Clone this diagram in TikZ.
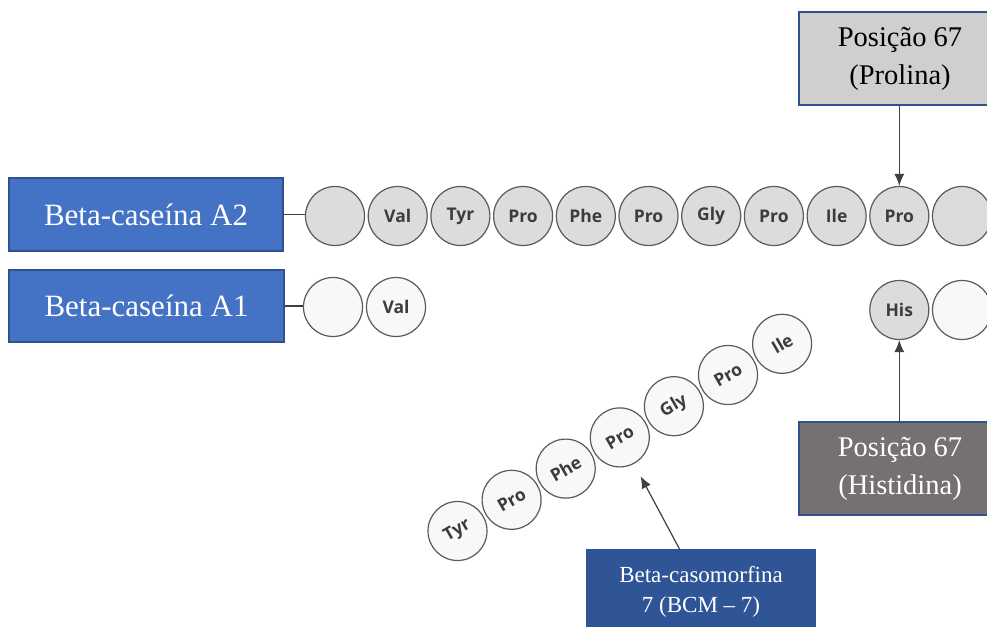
\documentclass[tikz,border=0pt]{standalone}
\usepackage{fontspec}
\setmainfont{Liberation Serif}
\newfontfamily\aafont{Open Sans}
\usetikzlibrary{arrows.meta}
\definecolor{boxblue}{HTML}{4472C4}
\definecolor{boxedge}{HTML}{2F528F}
\definecolor{bcmblue}{HTML}{2F5597}
\definecolor{lightbox}{HTML}{D0CECE}
\definecolor{darkbox}{HTML}{767171}
\definecolor{aagray}{HTML}{DCDCDC}
\definecolor{aawhite}{HTML}{F8F8F8}
\definecolor{aatext}{HTML}{3C3C3C}
\definecolor{aaedge}{HTML}{5A5A5A}
\begin{document}
\begin{tikzpicture}[x=1pt,y=-1pt,
  labelbox/.style={draw=boxedge,line width=1.5pt,inner sep=0pt,align=center,
    font=\fontsize{31}{38}\selectfont},
  aa/.style={circle,draw=aaedge,line width=1.2pt,minimum size=59pt,inner sep=0pt,
    font=\aafont\bfseries\fontsize{17.5}{17.5}\selectfont,text=aatext},
  aagrey/.style={aa,fill=aagray},
  aawhite/.style={aa,fill=aawhite},
  link/.style={draw=black!75,line width=1.2pt},
  arr/.style={link,-{Latex[length=12pt,width=10pt]}}
]
\useasboundingbox (0,0) rectangle (987,626);
\fill[white] (0,0) rectangle (987,626);

% label boxes
\node[labelbox,fill=boxblue,text=white,minimum width=274pt,minimum height=73pt] (bA2) at (146,214.5) {Beta-caseína A2};
\node[labelbox,fill=boxblue,text=white,minimum width=275pt,minimum height=72pt] (bA1) at (146.5,306) {Beta-caseína A1};
\node[labelbox,fill=lightbox,text=black,minimum width=202pt,minimum height=93pt,
  font=\fontsize{28.5}{38}\selectfont] (pro67) at (900,58.5) {Posição 67\\(Prolina)};
\node[labelbox,fill=darkbox,text=white,minimum width=202pt,minimum height=93pt,
  font=\fontsize{28.5}{38}\selectfont] (his67) at (900,468.5) {Posição 67\\(Histidina)};
\node[labelbox,fill=bcmblue,draw=bcmblue,text=white,minimum width=228pt,minimum height=84pt,
  font=\fontsize{23}{30}\selectfont] (bcm) at (701,592) {Beta-casomorfina\\7 (BCM -- 7)};

% A2 chain
\foreach \t [count=\i] in {{},Val,Tyr,Pro,Phe,Pro,Gly,Pro,Ile,Pro,{}} {
  \node[aagrey] (a2c\i) at ({335+(\i-1)*62.7},216) {\t};
}
% A1 chain
\node[aawhite] (a1c1) at (333,307) {};
\node[aawhite] (a1c2) at (396,307) {Val};
\node[aagrey] (a1c10) at (899.3,310) {His};
\node[aawhite] (a1c11) at (962,310) {};

% BCM-7 chain
\foreach \t [count=\i] in {Tyr,Pro,Phe,Pro,Gly,Pro,Ile} {
  \node[aawhite] (bc\i) at ({457.5+(\i-1)*54.1},{531-(\i-1)*31.2}) {\rotatebox{30}{\t}};
}

% connectors
\draw[link] (bA2.east) -- (bA2.east -| a2c1.west);
\draw[link] (bA1.east) -- (bA1.east -| a1c1.west);
\draw[arr] (pro67.south -| a2c10) -- (a2c10.north);
\draw[arr] (his67.north -| a1c10) -- (a1c10.south);
\coordinate (bcmtop) at (680,550);
\draw[arr,shorten >=14pt] (bcmtop) -- (bc4);
\end{tikzpicture}
\end{document}
